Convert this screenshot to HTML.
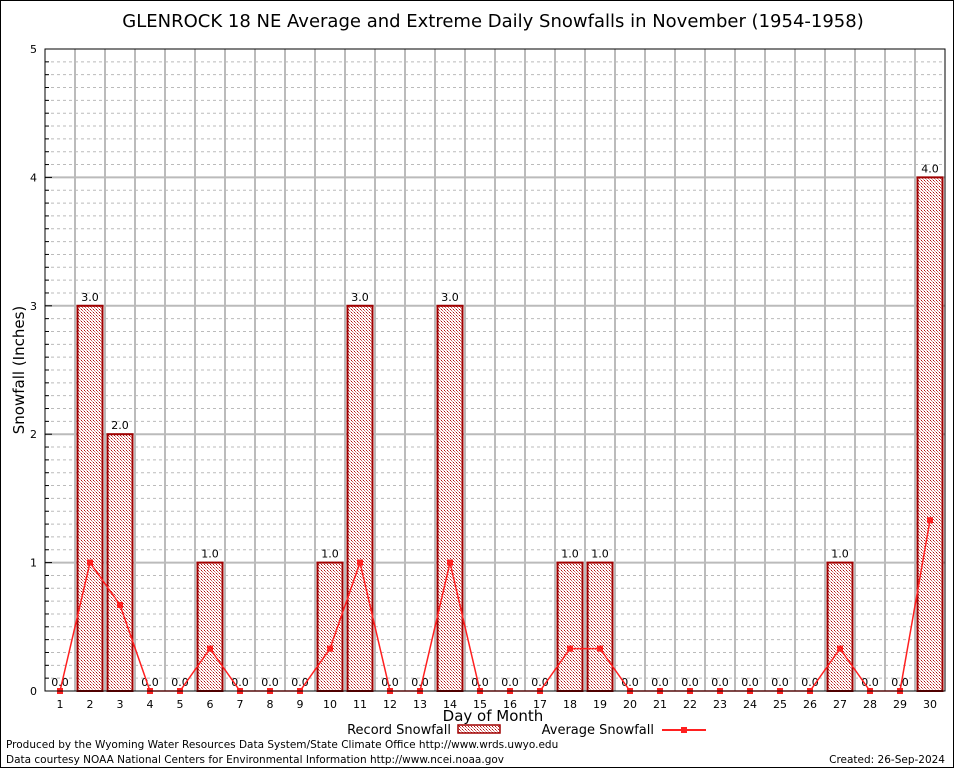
<!DOCTYPE html>
<html><head><meta charset="utf-8"><style>
body{margin:0;background:#fff;font-family:"DejaVu Sans","Liberation Sans",sans-serif;}
svg text{font-family:"DejaVu Sans","Liberation Sans",sans-serif;}
</style></head><body>
<svg id="chart" width="954" height="768" xmlns="http://www.w3.org/2000/svg">
<defs>
<pattern id="hatch" width="3" height="3" patternUnits="userSpaceOnUse">
<rect width="3" height="3" fill="#fff"/>
<rect x="0" y="0" width="1" height="1" fill="#b01010"/>
<rect x="1" y="1" width="1" height="1" fill="#d06060"/>
<rect x="2" y="2" width="1" height="1" fill="#e0a0a0"/>
</pattern>
</defs>
<rect x="0.5" y="0.5" width="953" height="767" fill="#fff" stroke="#000"/>
<text x="493" y="27" font-size="18" text-anchor="middle">GLENROCK 18 NE Average and Extreme Daily Snowfalls in November (1954-1958)</text>
<g id="grid"></g>
<g id="bars"></g>
<g id="line"></g>
<g id="axes"></g>
<text x="24" y="370" font-size="15" text-anchor="middle" transform="rotate(-90 24 370)">Snowfall (Inches)</text>
<text x="493" y="721" font-size="15" text-anchor="middle">Day of Month</text>
<g>
<text x="451" y="734" font-size="13" text-anchor="end">Record Snowfall</text>
<rect x="458" y="725" width="42" height="8" fill="url(#hatch)" stroke="#a00000" stroke-width="1.5"/>
<text x="654" y="734" font-size="13" text-anchor="end">Average Snowfall</text>
<line x1="662" y1="730" x2="706" y2="730" stroke="#ff2020" stroke-width="2"/>
<rect x="681" y="727" width="6" height="6" fill="#ff2020"/>
</g>
<text x="6" y="748" font-size="10.5">Produced by the Wyoming Water Resources Data System/State Climate Office http://www.wrds.uwyo.edu</text>
<text x="6" y="763" font-size="10.5">Data courtesy NOAA National Centers for Environmental Information http://www.ncei.noaa.gov</text>
<text x="945" y="763" font-size="10.5" text-anchor="end">Created: 26-Sep-2024</text>
</svg>
<script>
const days=[1,2,3,4,5,6,7,8,9,10,11,12,13,14,15,16,17,18,19,20,21,22,23,24,25,26,27,28,29,30];
const recordSnow=[0,3,2,0,0,1,0,0,0,1,3,0,0,3,0,0,0,1,1,0,0,0,0,0,0,0,1,0,0,4];
const avgSnow=[0,1,0.67,0,0,0.33,0,0,0,0.33,1,0,0,1,0,0,0,0.33,0.33,0,0,0,0,0,0,0,0.33,0,0,1.33];
const yTicks=[0,1,2,3,4,5];
const NS="http://www.w3.org/2000/svg";
const L=45,R=945,T=49,B=691,yMax=5;
function xs(d){return L+(d-0.5)*(R-L)/30;}
function ys(v){return B-v*(B-T)/yMax;}
function mk(tag,attrs,parent,txt){const e=document.createElementNS(NS,tag);for(const k in attrs)e.setAttribute(k,attrs[k]);if(txt!==undefined)e.textContent=txt;parent.appendChild(e);return e;}
const grid=document.getElementById('grid'),bars=document.getElementById('bars'),line=document.getElementById('line'),axes=document.getElementById('axes');
for(let i=1;i<yMax*10;i++){if(i%10===0)continue;const y=ys(i/10);
const g=mk('line',{x1:L,x2:R,y1:y,y2:y,stroke:'#bbb','stroke-dasharray':'3,3'},grid);


const t=mk('line',{x1:L,x2:L+4,y1:y,y2:y,stroke:'#000'},axes);

}
for(let d=1;d<30;d++){const x=L+d*(R-L)/30;
const g=mk('line',{x1:x,x2:x,y1:T,y2:B,stroke:'#bbb','stroke-width':2},grid);

}
yTicks.forEach(v=>{const y=ys(v);
if(v>0&&v<yMax){const g=mk('line',{x1:L,x2:R,y1:y,y2:y,stroke:'#bbb','stroke-width':2},grid);

}
const t=mk('text',{x:37,y:y+4,'font-size':11,'text-anchor':'end','font-family':'Liberation Serif,serif'},axes,String(v));


const tk=mk('line',{x1:L,x2:L+7,y1:y,y2:y,stroke:'#000'},axes);

});
const fr=mk('rect',{x:L,y:T,width:R-L,height:B-T,fill:'none',stroke:'#000','stroke-width':1},axes);


days.forEach((d,i)=>{const x=xs(d);
const tl=mk('text',{x:x,y:708,'font-size':11,'text-anchor':'middle','font-family':'Liberation Serif,serif'},axes,String(d));


const v=recordSnow[i];
if(v>0){const b=mk('rect',{x:x-12.5,y:ys(v),width:25,height:B-ys(v),fill:'url(#hatch)',stroke:'#a00000','stroke-width':2},bars);

}
const lab=mk('text',{x:x,y:ys(v)-5,'font-size':11,'text-anchor':'middle'},bars,v.toFixed(1));

});
const pts=days.map((d,i)=>xs(d)+','+ys(avgSnow[i])).join(' ');
const pl=mk('polyline',{points:pts,fill:'none',stroke:'#ff2020','stroke-width':1.5},line);


days.forEach((d,i)=>{const m=mk('rect',{x:xs(d)-3,y:ys(avgSnow[i])-3,width:6,height:6,fill:'#ff2020'},line);

});
</script>
</body></html>
